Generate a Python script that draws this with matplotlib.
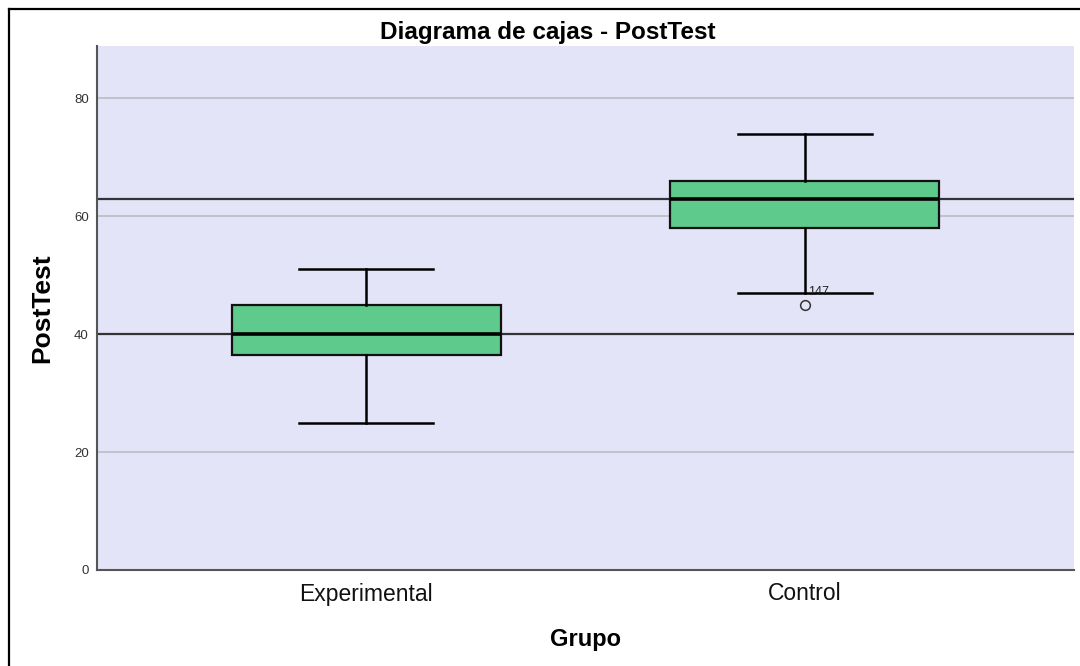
import matplotlib
matplotlib.use("Agg")
import matplotlib.pyplot as plt
from matplotlib.lines import Line2D

plt.rcParams['font.family'] = ['Liberation Sans', 'DejaVu Sans']

# data
groups = ['Experimental', 'Control']
whislo = [25, 47]
q1 = [36.5, 58]
med = [40, 63]
q3 = [45, 66]
whishi = [51, 74]
fliers = [[], [45]]
flier_ids = [[], ['147']]
yticks = [0, 20, 40, 60, 80]

green = '#5ECA8B'
lavender = '#E4E4F8'

fig = plt.figure(figsize=(10.8, 6.66), dpi=100)
ax = fig.add_axes([97 / 1080, 96 / 666, 977 / 1080, 524 / 666])
ax.set_facecolor(lavender)

stats = []
for i, g in enumerate(groups):
    stats.append(dict(label=g, whislo=whislo[i], q1=q1[i], med=med[i],
                      q3=q3[i], whishi=whishi[i], fliers=fliers[i]))

pos = list(range(1, len(groups) + 1))
ax.bxp(stats, positions=pos, widths=0.613, patch_artist=True,
       boxprops=dict(facecolor=green, edgecolor='#111111', linewidth=1.6),
       medianprops=dict(color='black', linewidth=2.6),
       whiskerprops=dict(color='black', linewidth=1.8),
       capprops=dict(color='black', linewidth=1.8),
       capwidths=0.305,
       flierprops=dict(marker='o', markerfacecolor='none',
                       markeredgecolor='#333333', markersize=7,
                       markeredgewidth=1.1),
       zorder=3)

# outlier case numbers
for i, (vals, ids) in enumerate(zip(fliers, flier_ids)):
    for v, lab in zip(vals, ids):
        ax.annotate(lab, (pos[i], v), xytext=(2, 7), textcoords='offset points',
                    ha='left', va='baseline', fontsize=9, color='#222222',
                    zorder=5)

# reference lines at the medians
for m in med:
    ax.axhline(m, color='#333333', linewidth=1.6, zorder=2)

ax.set_xlim(0.387, 2.613)
ax.set_ylim(0, 88.9)
ax.set_yticks(yticks)
ax.set_yticklabels([str(t) for t in yticks])
ax.yaxis.grid(True, color='#C2C2CC', linewidth=1.4, zorder=1)
ax.set_axisbelow(True)
ax.tick_params(axis='y', length=0, pad=6, labelsize=9.5, labelcolor='#333333')
ax.tick_params(axis='x', length=0, pad=9, labelsize=16.5, labelcolor='#111111')

for s in ['top', 'right']:
    ax.spines[s].set_visible(False)
for s in ['left', 'bottom']:
    ax.spines[s].set_color('#555555')
    ax.spines[s].set_linewidth(1.5)

ax.set_xlabel('Grupo', fontsize=17, fontweight='bold', labelpad=16)
ax.set_ylabel('PostTest', fontsize=19, fontweight='bold', labelpad=14)

fig.text(548 / 1080, 1 - 33 / 666, 'Diagrama de cajas - PostTest',
         ha='center', va='center', fontsize=17.5, fontweight='bold')

# outer frame of the chart
fig.add_artist(Line2D([9 / 1080, 9 / 1080], [0, 1 - 9 / 666],
                      transform=fig.transFigure, color='black', linewidth=1.6))
fig.add_artist(Line2D([9 / 1080, 1], [1 - 9 / 666, 1 - 9 / 666],
                      transform=fig.transFigure, color='black', linewidth=1.6))

fig.savefig('out.png', dpi=100)
